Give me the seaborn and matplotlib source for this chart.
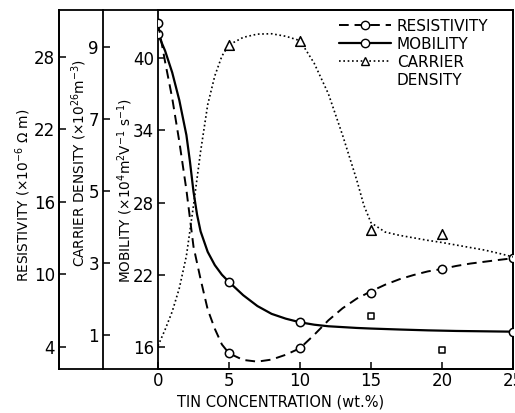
import numpy as np
import pandas as pd
import matplotlib
matplotlib.use("Agg")
import matplotlib.pyplot as plt
import seaborn as sns
from matplotlib.lines import Line2D

# ---------------- data ----------------
# measured points
conc_res = [0, 5, 10, 15, 20, 25]
resistivity = [30.8, 3.47, 3.89, 8.49, 10.43, 11.34]          # x1e-6 Ohm m
conc_mob = [0, 5, 10, 25]
mobility = [42.0, 21.4, 18.05, 17.27]                          # x1e4 m2/Vs
conc_car = [5, 10, 15, 20]
carrier = [9.06, 9.18, 3.92, 3.82]                             # x1e26 m-3
conc_sq = [15, 20]
mobility_sq = [18.57, 15.75]

# drawn curves
curve_x_res = [0, 0.5, 1.0, 1.5, 2.0, 2.5, 3.0, 3.5, 4.0, 4.5, 5, 6, 7, 8, 9, 10,
               11, 12, 13, 14, 15, 16, 17, 18, 19, 20, 21, 22, 23, 24, 25]
curve_res = [30.8, 27.6, 24.6, 21.0, 17.0, 12.3, 9.6, 7.1, 5.5, 4.2, 3.47, 2.92, 2.78,
             2.95, 3.35, 3.89, 5.0, 6.2, 7.2, 8.0, 8.6, 9.15, 9.6, 9.95, 10.25, 10.45,
             10.7, 10.9, 11.05, 11.2, 11.34]
curve_x_mob = [0, 0.5, 1.0, 1.5, 2.0, 2.25, 2.5, 2.75, 3.0, 3.5, 4.0, 4.5, 5, 6, 7, 8,
               9, 10, 11, 12, 13, 14, 15, 17, 19, 21, 23, 25]
curve_mob = [42.0, 40.6, 38.8, 36.5, 33.6, 31.4, 28.9, 27.0, 25.6, 23.9, 22.8, 22.0,
             21.4, 20.3, 19.4, 18.75, 18.35, 18.05, 17.85, 17.72, 17.65, 17.58, 17.53,
             17.45, 17.38, 17.33, 17.3, 17.27]
curve_x_car = [0, 0.5, 1.0, 1.5, 2.0, 2.5, 3.0, 3.5, 4.0, 4.5, 5, 6, 7, 8, 9, 10,
               11, 12, 13, 14, 14.5, 15, 16, 17, 18, 19, 20, 21, 22, 23, 24, 25]
curve_car = [0.7, 1.15, 1.65, 2.3, 3.2, 4.6, 6.1, 7.4, 8.2, 8.75, 9.06, 9.27, 9.36,
             9.37, 9.3, 9.18, 8.55, 7.7, 6.55, 5.3, 4.6, 4.12, 3.86, 3.77, 3.7, 3.63,
             3.57, 3.5, 3.43, 3.36, 3.27, 3.17]

x_ticks = [0, 5, 10, 15, 20, 25]
res_ticks = [4, 10, 16, 22, 28]
car_ticks = [1, 3, 5, 7, 9]
mob_ticks = [16, 22, 28, 34, 40]

# ---------------- style ----------------
sns.set_theme(style="white")
plt.rcParams["font.family"] = ["DejaVu Sans"]
plt.rcParams["mathtext.fontset"] = "dejavusans"
plt.rcParams["text.color"] = "black"
TICKFONT = ["Liberation Sans Narrow", "DejaVu Sans"]

W, H = 515, 413
fig = plt.figure(figsize=(W / 100, H / 100), dpi=100)
fig.patch.set_facecolor("white")


def fx(px):
    return px / W


def fy(py):
    return 1 - py / H


LW = 1.3
# outer frame
frame = fig.add_axes([fx(59), fy(369), fx(513) - fx(59), fy(10) - fy(369)])
frame.set_xticks([])
frame.set_yticks([])
frame.patch.set_alpha(0)
for s in frame.spines.values():
    s.set_visible(True)
    s.set_color("black")
    s.set_linewidth(LW)

# mobility (host) axis
ax = fig.add_axes([fx(158), fy(369), fx(513) - fx(158), fy(10) - fy(369)])
ax.patch.set_alpha(0)
ax_r = ax.twinx()
ax_c = ax.twinx()

for a in (ax, ax_r, ax_c):
    for s in a.spines.values():
        s.set_visible(False)
for side in ("left", "right", "top", "bottom"):
    ax.spines[side].set_visible(True)
    ax.spines[side].set_color("black")
    ax.spines[side].set_linewidth(LW)

ax.set_xlim(0, 25)
ax.set_ylim(14.17, 43.99)
ax_r.set_ylim(2.17, 31.89)
ax_c.set_ylim(0.056, 10.03)

for a, off, ticks in ((ax_r, 99, res_ticks), (ax_c, 55, car_ticks)):
    a.spines["left"].set_visible(True)
    a.spines["left"].set_position(("outward", off * 0.72))
    a.spines["left"].set_color("black")
    a.spines["left"].set_linewidth(LW)
    a.yaxis.tick_left()
    a.yaxis.set_label_position("left")
    a.set_yticks(ticks)
    a.tick_params(axis="y", direction="in", length=5, width=1.1, pad=3,
                  labelsize=12, colors="black", right=False)
ax.set_yticks(mob_ticks)
ax.tick_params(axis="y", direction="in", length=5, width=1.1, pad=3,
               labelsize=12, colors="black", left=True)
ax.set_xticks(x_ticks)
ax.tick_params(axis="x", direction="in", length=5, width=1.1, pad=2,
               labelsize=12, colors="black", bottom=True)
for a in (ax, ax_r, ax_c):
    for lab in a.get_yticklabels() + a.get_xticklabels():
        lab.set_family(TICKFONT)

# ---------------- curves ----------------
sns.lineplot(x=curve_x_res, y=curve_res, ax=ax_r, color="black", lw=1.4,
             sort=False, estimator=None)
ax_r.lines[-1].set_dashes((5, 3))
sns.lineplot(x=curve_x_mob, y=curve_mob, ax=ax, color="black", lw=1.6,
             sort=False, estimator=None)
sns.lineplot(x=curve_x_car, y=curve_car, ax=ax_c, color="black", lw=1.2,
             sort=False, estimator=None)
ax_c.lines[-1].set_linestyle((0, (1, 1.6)))

# ---------------- markers ----------------
mk = dict(facecolor="white", edgecolor="black", linewidth=1.1, zorder=5)
sns.scatterplot(x=conc_res, y=resistivity, ax=ax_r, marker="o", s=36, **mk)
sns.scatterplot(x=conc_mob, y=mobility, ax=ax, marker="o", s=36, **mk)
sns.scatterplot(x=conc_car, y=carrier, ax=ax_c, marker="^", s=48, **mk)
sns.scatterplot(x=conc_sq, y=mobility_sq, ax=ax, marker="s", s=20, **mk)

for a in (ax, ax_r, ax_c):
    a.set_xlabel("")
    a.set_ylabel("")

# ---------------- labels ----------------
LFS = 9.8
fig.text(fx(23), fy(195), r"RESISTIVITY ($\times$10$^{-6}$ $\Omega$ m)",
         rotation=90, ha="center", va="center", fontsize=LFS, color="black")
fig.text(fx(79), fy(163), r"CARRIER DENSITY ($\times$10$^{26}$m$^{-3}$)",
         rotation=90, ha="center", va="center", fontsize=LFS, color="black")
fig.text(fx(125), fy(190), r"MOBILITY ($\times$10$^{4}$m$^{2}$V$^{-1}$ s$^{-1}$)",
         rotation=90, ha="center", va="center", fontsize=LFS, color="black")
fig.text(fx(281), fy(402), "TIN CONCENTRATION (wt.%)", ha="center",
         va="center", fontsize=10.5, color="black")

# ---------------- legend ----------------
handles = [
    Line2D([], [], color="black", lw=1.4, dashes=(5, 3), marker="o", ms=6,
           mfc="white", mec="black"),
    Line2D([], [], color="black", lw=1.6, marker="o", ms=6, mfc="white",
           mec="black"),
    Line2D([], [], color="black", lw=1.2, ls=(0, (1, 1.6)), marker="^", ms=6,
           mfc="white", mec="black"),
    Line2D([], [], color="none"),
]
labels = ["RESISTIVITY", "MOBILITY", "CARRIER", "DENSITY"]
fig.legend(handles, labels, loc="upper left",
           bbox_to_anchor=(fx(328), fy(8)), frameon=False, fontsize=11,
           handlelength=3.4, handletextpad=0.4, labelspacing=0.2,
           borderpad=0.2, labelcolor="black")

fig.savefig("out.png", dpi=100)
